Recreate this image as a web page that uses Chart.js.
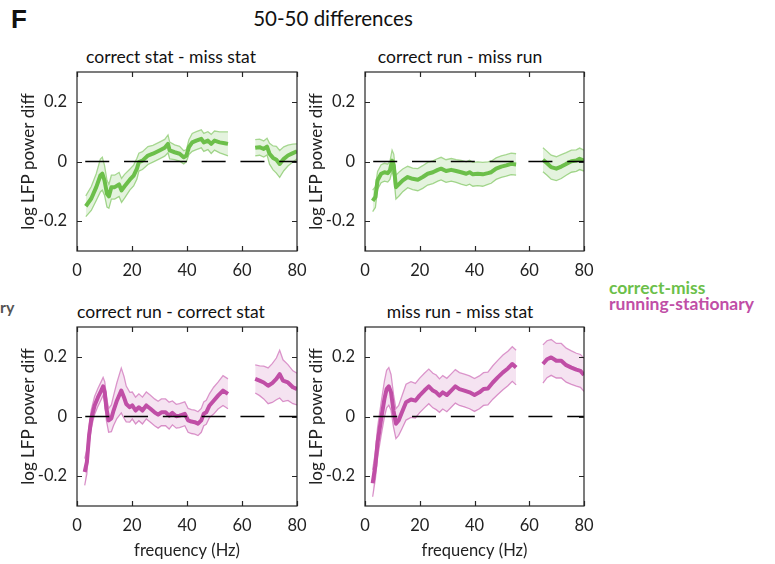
<!DOCTYPE html>
<html>
<head>
<meta charset="utf-8">
<script src="https://cdn.jsdelivr.net/npm/chart.js@4.4.1/dist/chart.umd.min.js"></script>
<style>
    body { margin: 0; background: #fff; width: 775px; height: 564px; position: relative; overflow: hidden; font-family: Lato, "Open Sans", sans-serif; color: #111; }
    canvas { position: absolute; left: 0; top: 0; }
    .txt { position: absolute; white-space: nowrap; transform: translate(-50%, -50%); }
    .legend { position: absolute; left: 609px; white-space: nowrap; font-weight: bold; font-size: 17.5px; transform: translateY(-50%); }
</style>
</head>
<body>
<div class="txt" style="left:19px;top:19px;font:bold 26px 'Liberation Sans', Arial, sans-serif;">F</div>
<div class="txt" style="left:333px;top:18px;font-size:20.5px;">50-50 differences</div>
<div class="txt" style="left:171px;top:56px;font-size:17.5px;">correct stat - miss stat</div>
<div class="txt" style="left:460px;top:56px;font-size:17.5px;">correct run - miss run</div>
<div class="txt" style="left:171px;top:311px;font-size:17.5px;">correct run - correct stat</div>
<div class="txt" style="left:460px;top:311px;font-size:17.5px;">miss run - miss stat</div>
<div style="position:absolute;left:0;top:297px;font-weight:bold;font-size:16px;color:#555;">ry</div>
<div class="legend" style="top:287px;color:#6cbf4a;">correct-miss</div>
<div class="legend" style="top:303px;color:#c04ea6;">running-stationary</div>

<canvas id="chartStat" width="775" height="564"></canvas>
<canvas id="chartRun" width="775" height="564"></canvas>
<canvas id="chartCorrect" width="775" height="564"></canvas>
<canvas id="chartMiss" width="775" height="564"></canvas>

<script>
// tick labels
const xTicks = [0, 20, 40, 60, 80];
const yTicks = [-0.2, 0, 0.2];
const zeroLineX = [3, 80];

// correct stat - miss stat
const statFreq = [3.2, 5.2, 7, 8.5, 9.2, 10, 10.9, 11.6, 12.5, 13.7, 15.3, 16.2, 17.3, 19.2, 20.6, 21.8, 22.5, 23.8, 25.8, 27.6, 30, 31.9, 33.1, 33.7, 35.5, 37.3, 38.8, 39.8, 40.7, 41.9, 43.4, 45.2, 46.1, 47.6, 48.8, 50, 51.9, 53.7, 54.9,
    64.8, 66.4, 67.9, 69.1, 70, 71.3, 72.5, 73.7, 75.2, 76.7, 78.5, 80];
const statMean = [-0.15, -0.124, -0.086, -0.047, -0.041, -0.063, -0.108, -0.117, -0.086, -0.086, -0.077, -0.097, -0.083, -0.061, -0.047, -0.024, -0.002, 0.003, 0.02, 0.026, 0.037, 0.046, 0.059, 0.037, 0.031, 0.026, 0.014, 0.02, 0.048, 0.064, 0.07, 0.076, 0.064, 0.07, 0.059, 0.07, 0.064, 0.061, 0.059,
    0.046, 0.048, 0.042, 0.05, 0.026, 0.012, 0.006, -0.008, 0.009, 0.02, 0.028, 0.034];
const statSem = [0.035, 0.04, 0.045, 0.055, 0.055, 0.05, 0.045, 0.04, 0.04, 0.04, 0.04, 0.04, 0.04, 0.035, 0.035, 0.035, 0.03, 0.03, 0.03, 0.028, 0.028, 0.028, 0.03, 0.028, 0.025, 0.025, 0.022, 0.02, 0.025, 0.03, 0.03, 0.03, 0.03, 0.03, 0.032, 0.032, 0.035, 0.038, 0.04,
    0.027, 0.027, 0.027, 0.028, 0.035, 0.04, 0.045, 0.045, 0.04, 0.035, 0.03, 0.025];

// correct run - miss run
const runFreq = [2.8, 3.8, 4.6, 5.9, 7.1, 8.3, 9.1, 9.9, 10.5, 11.3, 12.6, 13.8, 15.6, 17.4, 19.3, 21.1, 22.9, 24.8, 26.6, 27.8, 29.6, 31.5, 33.3, 35.1, 37, 38.2, 39.4, 41.2, 43, 44.9, 46.1, 47.9, 49.8, 51.6, 53.4, 55.2,
    65, 66.5, 68, 69.9, 71.7, 73.5, 75.4, 77.2, 78.4, 80];
const runMean = [-0.132, -0.119, -0.063, -0.041, -0.036, -0.039, -0.03, 0.003, -0.013, -0.086, -0.074, -0.063, -0.052, -0.058, -0.061, -0.052, -0.041, -0.036, -0.028, -0.024, -0.032, -0.028, -0.032, -0.036, -0.041, -0.036, -0.043, -0.041, -0.043, -0.039, -0.036, -0.024, -0.017, -0.013, -0.008, -0.01,
    0.006, -0.006, -0.019, -0.024, -0.017, -0.008, 0.001, 0.003, 0.009, 0.003];
const runSem = [0.036, 0.035, 0.03, 0.03, 0.03, 0.03, 0.03, 0.035, 0.038, 0.04, 0.04, 0.038, 0.036, 0.036, 0.037, 0.038, 0.038, 0.038, 0.038, 0.038, 0.038, 0.038, 0.038, 0.04, 0.04, 0.04, 0.04, 0.04, 0.04, 0.038, 0.037, 0.036, 0.036, 0.036, 0.036, 0.036,
    0.04, 0.04, 0.04, 0.04, 0.04, 0.038, 0.037, 0.036, 0.036, 0.035];

// correct run - correct stat
const correctFreq = [2.8, 3.6, 4.4, 5.2, 6.4, 7.6, 8.8, 9.5, 10.1, 10.7, 11.5, 12.5, 13.3, 14.5, 16.1, 17.1, 17.9, 19.2, 20.1, 21.3, 22.5, 23.8, 25.2, 26.7, 28.2, 29.5, 30.7, 32.2, 33.5, 34.7, 36.1, 37.3, 39.2, 40.4, 41.6, 42.8, 44, 45.2, 46.1, 47, 48.2, 49.7, 51.3, 53.1, 54.9,
    64.8, 66.4, 67.9, 69.5, 71, 72.5, 73.7, 74.9, 76.7, 78.5, 80];
const correctMean = [-0.186, -0.152, -0.063, -0.008, 0.037, 0.064, 0.087, 0.101, 0.081, 0.026, -0.013, -0.006, 0.02, 0.053, 0.087, 0.064, 0.042, 0.031, 0.037, 0.02, 0.031, 0.02, 0.037, 0.026, 0.014, 0.006, 0.014, 0.014, 0.003, 0.012, 0.001, 0.003, 0.009, -0.013, -0.017, -0.019, -0.024, -0.013, 0.009, 0.014, 0.037, 0.053, 0.07, 0.087, 0.076,
    0.126, 0.12, 0.114, 0.103, 0.112, 0.126, 0.142, 0.12, 0.114, 0.098, 0.092];
const correctSem = [0.045, 0.04, 0.03, 0.03, 0.03, 0.03, 0.03, 0.03, 0.035, 0.04, 0.04, 0.045, 0.05, 0.06, 0.075, 0.07, 0.06, 0.05, 0.045, 0.045, 0.045, 0.045, 0.045, 0.045, 0.045, 0.045, 0.045, 0.045, 0.045, 0.04, 0.04, 0.04, 0.04, 0.04, 0.04, 0.04, 0.04, 0.04, 0.04, 0.04, 0.04, 0.045, 0.045, 0.05, 0.05,
    0.047, 0.05, 0.055, 0.06, 0.065, 0.07, 0.08, 0.07, 0.06, 0.055, 0.053];

// miss run - miss stat
const missFreq = [2.8, 3.8, 4.6, 5.9, 7.1, 7.9, 8.7, 9.5, 10.4, 11.3, 12.3, 13.5, 15, 16.8, 18.4, 19.9, 21.7, 23.3, 24.8, 26, 27.2, 28.4, 29.9, 31.5, 33, 34.5, 36.3, 38.2, 40, 41.8, 43.3, 44.9, 46.7, 48.5, 50.4, 52.2, 53.8, 55.2,
    65, 66.5, 68, 69.9, 71.7, 73.5, 75.4, 77.2, 78.7, 80];
const missMean = [-0.224, -0.163, -0.086, -0.008, 0.059, 0.092, 0.101, 0.081, 0.02, -0.024, -0.013, 0.014, 0.048, 0.057, 0.053, 0.07, 0.087, 0.101, 0.087, 0.081, 0.07, 0.081, 0.072, 0.087, 0.101, 0.092, 0.087, 0.081, 0.072, 0.081, 0.092, 0.094, 0.114, 0.131, 0.148, 0.161, 0.176, 0.164,
    0.176, 0.192, 0.198, 0.187, 0.187, 0.172, 0.164, 0.157, 0.153, 0.139];
const missSem = [0.045, 0.045, 0.05, 0.055, 0.06, 0.063, 0.063, 0.06, 0.055, 0.05, 0.05, 0.055, 0.06, 0.06, 0.058, 0.058, 0.058, 0.058, 0.058, 0.058, 0.056, 0.056, 0.056, 0.056, 0.056, 0.055, 0.055, 0.055, 0.055, 0.055, 0.055, 0.055, 0.056, 0.057, 0.058, 0.058, 0.058, 0.058,
    0.064, 0.062, 0.06, 0.058, 0.058, 0.057, 0.056, 0.055, 0.055, 0.055];

const fontFamily = "Lato, 'Open Sans', sans-serif";
const greenColors = { line: "#6cbf4a", edge: "#a6d790", fill: "rgba(120, 195, 90, 0.2)" };
const magentaColors = { line: "#c04ea6", edge: "#db95cb", fill: "rgba(195, 90, 170, 0.17)" };

// points with a break across the line-noise gap
function toPoints(freqs, values) {
    const points = [];

    freqs.forEach((f, i) => {
        if (i > 0 && f - freqs[i - 1] > 5) {
            points.push({ x: (f + freqs[i - 1]) / 2, y: null });
        }
        points.push({ x: f, y: values[i] });
    });

    return points;
}

const boxTicks = {
    id: "boxTicks",
    afterDatasetsDraw(chart) {
        const { ctx, chartArea: a, scales: { x, y } } = chart;
        const len = 5;

        ctx.save();
        ctx.strokeStyle = "#262626";
        ctx.lineWidth = 1.2;
        ctx.beginPath();

        for (const v of xTicks) {
            const px = Math.round(x.getPixelForValue(v)) + 0.5;
            ctx.moveTo(px, a.bottom);
            ctx.lineTo(px, a.bottom - len);
            ctx.moveTo(px, a.top);
            ctx.lineTo(px, a.top + len);
        }

        for (const v of yTicks) {
            const py = Math.round(y.getPixelForValue(v)) + 0.5;
            ctx.moveTo(a.left, py);
            ctx.lineTo(a.left + len, py);
            ctx.moveTo(a.right, py);
            ctx.lineTo(a.right - len, py);
        }

        ctx.stroke();
        ctx.strokeRect(a.left, a.top, a.right - a.left, a.bottom - a.top);
        ctx.restore();
    }
};

function makePanel(canvasId, box, freqs, mean, sem, colors, showXTitle) {
    const lower = mean.map((m, i) => m - sem[i]);
    const upper = mean.map((m, i) => m + sem[i]);

    new Chart(document.getElementById(canvasId), {
        type: "line",
        data: {
            datasets: [
                {
                    data: zeroLineX.map(v => ({ x: v, y: 0 })),
                    borderColor: "#000",
                    borderWidth: 1.5,
                    borderDash: [24, 14.8],
                    pointRadius: 0,
                    fill: false
                },
                {
                    data: toPoints(freqs, mean),
                    borderColor: colors.line,
                    borderWidth: 4,
                    borderJoinStyle: "round",
                    pointRadius: 0,
                    fill: false,
                    spanGaps: false
                },
                {
                    data: toPoints(freqs, upper),
                    borderColor: colors.edge,
                    backgroundColor: colors.fill,
                    borderWidth: 1.3,
                    pointRadius: 0,
                    fill: "+1",
                    spanGaps: false
                },
                {
                    data: toPoints(freqs, lower),
                    borderColor: colors.edge,
                    borderWidth: 1.3,
                    pointRadius: 0,
                    fill: false,
                    spanGaps: false
                }
            ]
        },
        options: {
            responsive: false,
            animation: false,
            events: [],
            layout: {
                padding: {
                    left: box.left - 77,
                    top: box.top,
                    right: 775 - box.right,
                    bottom: 564 - box.bottom - 55
                }
            },
            plugins: {
                legend: { display: false },
                tooltip: { enabled: false }
            },
            scales: {
                x: {
                    type: "linear",
                    min: 0,
                    max: 80,
                    afterBuildTicks: scale => { scale.ticks = xTicks.map(v => ({ value: v })); },
                    afterFit: scale => { scale.height = 55; },
                    grid: { display: false, drawTicks: false },
                    border: { display: false },
                    ticks: { padding: 10, color: "#222", font: { family: fontFamily, size: 16.5 } },
                    title: {
                        display: showXTitle,
                        text: "frequency (Hz)",
                        color: "#222",
                        padding: { top: 0, bottom: 0 },
                        font: { family: fontFamily, size: 16.5 }
                    }
                },
                y: {
                    type: "linear",
                    min: -0.3,
                    max: 0.3,
                    afterBuildTicks: scale => { scale.ticks = yTicks.map(v => ({ value: v })); },
                    afterFit: scale => { scale.width = 77; },
                    grid: { display: false, drawTicks: false },
                    border: { display: false },
                    ticks: { padding: 10, color: "#222", font: { family: fontFamily, size: 16.5 } },
                    title: {
                        display: true,
                        text: "log LFP power diff",
                        color: "#222",
                        padding: { top: 18, bottom: 0 },
                        font: { family: fontFamily, size: 17 }
                    }
                }
            }
        },
        plugins: [boxTicks]
    });
}

document.addEventListener("DOMContentLoaded", () => {
    makePanel("chartStat", { left: 77, right: 297, top: 72, bottom: 251 }, statFreq, statMean, statSem, greenColors, false);
    makePanel("chartRun", { left: 365, right: 584, top: 72, bottom: 251 }, runFreq, runMean, runSem, greenColors, false);
    makePanel("chartCorrect", { left: 77, right: 297, top: 327, bottom: 506 }, correctFreq, correctMean, correctSem, magentaColors, true);
    makePanel("chartMiss", { left: 365, right: 584, top: 327, bottom: 506 }, missFreq, missMean, missSem, magentaColors, true);
});
</script>
</body>
</html>
